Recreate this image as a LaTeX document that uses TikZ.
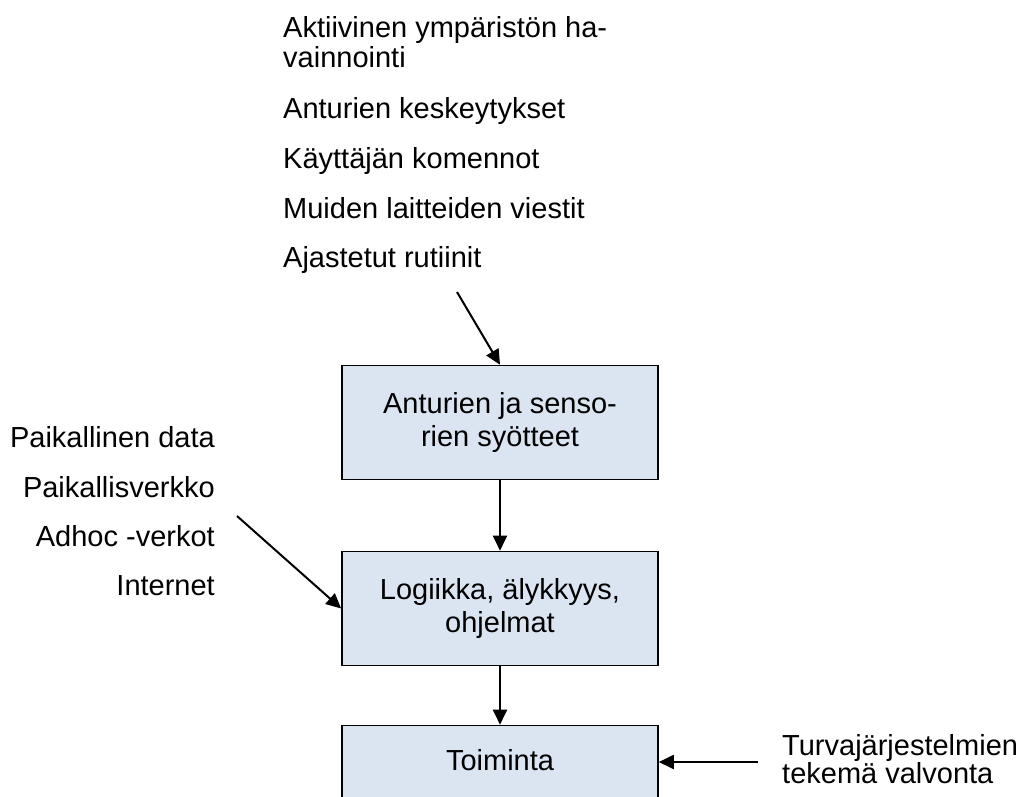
\documentclass[tikz,border=0pt]{standalone}
\usepackage{fontspec}
\setmainfont{Liberation Sans}
\usetikzlibrary{arrows.meta}
\definecolor{boxfill}{HTML}{DBE5F1}
\begin{document}
\begin{tikzpicture}[x=1pt,y=-1pt,
  box/.style={draw=black, line width=1.6pt, fill=boxfill, minimum width=316pt,
    minimum height=114pt, inner sep=0pt, align=center,
    font=\fontsize{29}{33}\selectfont},
  txt/.style={inner sep=0pt, font=\fontsize{29}{30}\selectfont},
  arr/.style={line width=2pt, -{Triangle[length=15pt,width=14pt]}}]
\useasboundingbox (0,0) rectangle (1020,796);
\clip (0,0) rectangle (1020,796);

% boxes
\node[box] (b1) at (500,422.5) {Anturien ja senso-\\rien syötteet};
\node[box] (b2) at (500,608.5) {Logiikka, älykkyys,\\ohjelmat};
\node[box] (b3) at (500,782.5) {};
\node[txt, anchor=base] (t3) at (500,770) {Toiminta};

% top texts
\node[txt, anchor=base west] (a1) at (283,37) {Aktiivinen ympäristön ha-};
\node[txt, anchor=base west] (a2) at (283,67) {vainnointi};
\node[txt, anchor=base west] (a3) at (283,118) {Anturien keskeytykset};
\node[txt, anchor=base west] (a4) at (283,168) {Käyttäjän komennot};
\node[txt, anchor=base west] (a5) at (283,218) {Muiden laitteiden viestit};
\node[txt, anchor=base west] (a6) at (283,267) {Ajastetut rutiinit};

% left texts
\node[txt, anchor=base east] (l1) at (215,447) {Paikallinen data};
\node[txt, anchor=base east] (l2) at (215,497) {Paikallisverkko};
\node[txt, anchor=base east] (l3) at (215,546) {Adhoc -verkot};
\node[txt, anchor=base east] (l4) at (215,595) {Internet};

% right texts
\node[txt, anchor=base west] (r1) at (782,755) {Turvajärjestelmien};
\node[txt, anchor=base west] (r2) at (782,783) {tekemä valvonta};

% connectors
\coordinate (s1) at (457,292);
\coordinate (s2) at (237,516);
\coordinate (s3) at (758,762);
\draw[arr] (s1) -- (b1.north);
\draw[arr] (b1.south) -- (b2.north);
\draw[arr] (b2.south) -- (b3.north);
\draw[arr] (s2) -- (b2.west);
\draw[arr] (s3) -- (s3 -| b3.east);
\end{tikzpicture}
\end{document}
